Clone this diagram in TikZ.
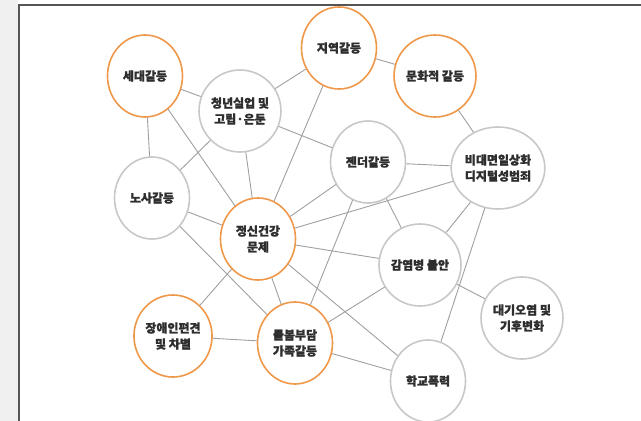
\documentclass[tikz,border=0pt]{standalone}
\usepackage{fontspec}
\setmainfont{Noto Sans CJK KR}[BoldFeatures={FakeBold=1.2}]
\usetikzlibrary{shapes.geometric}
\definecolor{orng}{HTML}{F0984A}
\definecolor{cgray}{HTML}{C8C8C8}
\definecolor{lgray}{HTML}{A0A0A0}
\definecolor{txt}{HTML}{2E2E2E}
\definecolor{bggray}{HTML}{F0F0F0}
\definecolor{frame}{HTML}{555555}
\tikzset{
  bub/.style={ellipse, draw=cgray, line width=1.6pt, fill=white,
    minimum width=75pt, minimum height=82pt, inner sep=0pt, align=center,
    font=\fontsize{12}{16}\selectfont\bfseries, text=txt},
  hot/.style={bub, draw=orng},
  link/.style={draw=lgray, line width=0.9pt}
}
\begin{document}
\begin{tikzpicture}[x=1pt,y=-1pt]
\useasboundingbox (0,0) rectangle (641,421);
\fill[bggray] (0,0) rectangle (18,421);
\fill[white] (19,5) rectangle (641,421);
\draw[frame, line width=1.8pt] (19,421) -- (19,5) -- (641,5);

\node[hot] (A) at (145,76) {세대갈등};
\node[hot] (B) at (339,48) {지역갈등};
\node[hot] (C) at (435,76) {문화적 갈등};
\node[bub] (D) at (240,111) {청년실업 및\\고립·은둔};
\node[bub] (E) at (368,162) {젠더갈등};
\node[bub] (F) at (498,168) {비대면일상화\\디지털성범죄};
\node[bub] (G) at (152,198) {노사갈등};
\node[hot] (H) at (258,239) {정신건강\\문제};
\node[bub] (I) at (420,265) {감염병 불안};
\node[bub] (J) at (522,318) {대기오염 및\\기후변화};
\node[hot] (K) at (173,336) {장애인편견\\및 차별};
\node[hot] (L) at (295,343) {돌봄부담\\가족갈등};
\node[bub] (M) at (428,381) {학교폭력};

\foreach \a/\b in {A/D,A/G,A/H,D/B,D/E,D/G,D/H,B/C,B/H,C/F,E/F,E/H,E/I,E/L,F/H,F/I,F/M,G/H,G/L,H/I,H/K,H/L,H/M,I/J,I/L,K/L,L/M}
  \draw[link] (\a) -- (\b);
\end{tikzpicture}
\end{document}
